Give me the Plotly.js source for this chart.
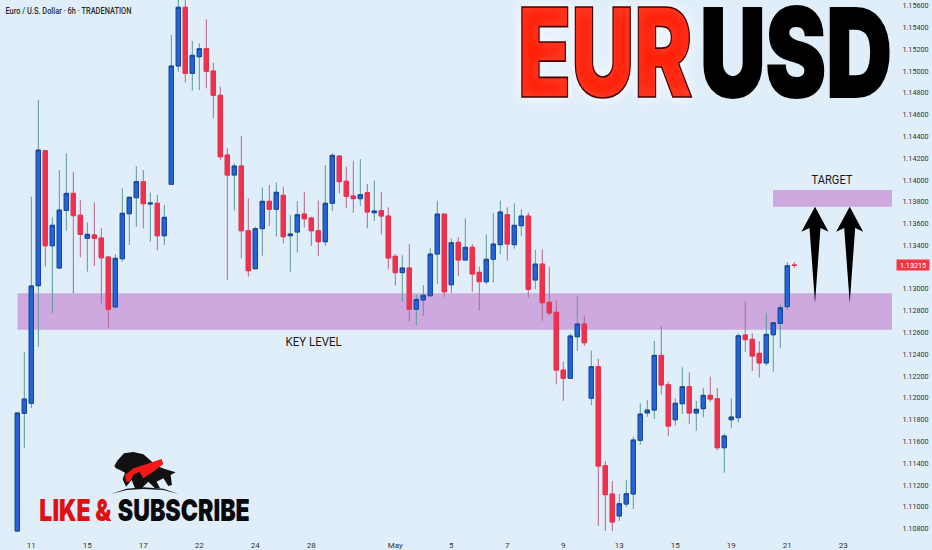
<!DOCTYPE html>
<html>
<head>
<meta charset="utf-8">
<script src="https://cdn.plot.ly/plotly-3.0.1.min.js"></script>
<style>html,body{margin:0;padding:0;background:#e0eefa}</style>
</head>
<body>
<div id="chart" style="width:932px;height:550px"></div>
<script>
var opens = [
1.10777,1.11858,1.11950,1.13029,1.14269,1.13396,1.13192,1.13721,1.13877,1.13676,
1.13464,1.13495,1.13467,1.13293,1.12834,1.13277,1.13690,1.13837,1.13984,1.13779,
1.13786,1.13488,1.13960,1.15046,1.15585,1.14979,1.15131,1.15205,1.15000,1.14777,
1.14229,1.14045,1.14128,1.13534,1.13185,1.13553,1.13804,1.13731,1.13859,1.13488,
1.13522,1.13687,1.13651,1.13534,1.13433,1.13786,1.14220,1.13988,1.13853,1.13828,
1.13883,1.13699,1.13718,1.13669,1.13299,1.13149,1.13192,1.12813,1.12898,1.12937,
1.13320,1.13687,1.13038,1.13428,1.13265,1.13382,1.13152,1.13066,1.13272,1.13406,
1.13681,1.13406,1.13580,1.13669,1.13082,1.13228,1.12877,1.12785,1.12255,1.12179,
1.12561,1.12678,1.11996,1.12286,1.11377,1.11117,1.10915,1.11025,1.11117,1.11610,
1.11861,1.11888,1.12390,1.12120,1.11799,1.11946,1.12102,1.11861,1.11900,1.12023,
1.11992,1.11542,1.11799,1.11818,1.12577,1.12537,1.12409,1.12320,1.12579,1.12684,
1.12837,1.13220];
var highs = [
1.11870,1.12421,1.13846,1.14734,1.14275,1.13657,1.14091,1.14245,1.14076,1.13816,
1.13611,1.13795,1.13556,1.13293,1.13320,1.13923,1.13844,1.14128,1.14091,1.13883,
1.13862,1.13770,1.15331,1.15698,1.15698,1.15276,1.15255,1.15475,1.15076,1.14856,
1.14291,1.14153,1.14404,1.13832,1.13571,1.13933,1.13954,1.13978,1.13938,1.13678,
1.13807,1.13892,1.13663,1.13810,1.14137,1.14245,1.14220,1.14122,1.14177,1.14192,
1.13963,1.13993,1.13892,1.13749,1.13320,1.13308,1.13412,1.12944,1.13036,1.13373,
1.13810,1.13687,1.13464,1.13474,1.13648,1.13412,1.13204,1.13501,1.13699,1.13810,
1.13749,1.13786,1.13731,1.13699,1.13357,1.13363,1.13204,1.12898,1.12332,1.12592,
1.12935,1.12754,1.12433,1.12359,1.11420,1.11236,1.11117,1.11246,1.11643,1.11950,
1.11980,1.12522,1.12659,1.12148,1.11996,1.12280,1.12234,1.11971,1.12090,1.12194,
1.12090,1.11674,1.11996,1.12592,1.12882,1.12592,1.12519,1.12781,1.12696,1.12858,
1.13247,1.13247];
var lows = [
1.10768,1.11542,1.11907,1.12469,1.13204,1.12776,1.13185,1.13534,1.12959,1.13290,
1.13158,1.13210,1.12868,1.12644,1.12825,1.13250,1.13403,1.13571,1.13556,1.13433,
1.13357,1.13403,1.13960,1.14994,1.14893,1.14819,1.14826,1.14841,1.14566,1.14183,
1.13082,1.13718,1.13281,1.13112,1.13185,1.13305,1.13577,1.13479,1.13418,1.13158,
1.13332,1.13565,1.13394,1.13302,1.13394,1.13715,1.13877,1.13740,1.13699,1.13761,
1.13556,1.13623,1.13501,1.13180,1.13029,1.12877,1.12705,1.12662,1.12751,1.12937,
1.13045,1.12928,1.12959,1.13118,1.13265,1.12974,1.12800,1.13042,1.13057,1.13320,
1.13259,1.13369,1.13486,1.12923,1.12996,1.12708,1.12754,1.12124,1.11971,1.12179,
1.12430,1.12476,1.11934,1.10823,1.10777,1.10777,1.10869,1.10995,1.10979,1.11570,
1.11827,1.11806,1.12032,1.11650,1.11744,1.11851,1.11760,1.11698,1.11821,1.11964,
1.11518,1.11313,1.11726,1.11772,1.12423,1.12246,1.12185,1.12295,1.12240,1.12455,
1.12806,1.13192];
var closes = [
1.11861,1.11989,1.13027,1.14275,1.13396,1.13584,1.13724,1.13877,1.13672,1.13501,
1.13501,1.13464,1.13286,1.12813,1.13281,1.13694,1.13841,1.13984,1.13782,1.13788,
1.13488,1.13657,1.15046,1.15585,1.14979,1.15144,1.15205,1.14997,1.14777,1.14213,
1.14045,1.14128,1.13534,1.13167,1.13553,1.13804,1.13731,1.13887,1.13479,1.13504,
1.13681,1.13644,1.13534,1.13433,1.13786,1.14226,1.13984,1.13850,1.13828,1.13865,
1.13706,1.13715,1.13669,1.13284,1.13149,1.13192,1.12813,1.12904,1.12941,1.13320,
1.13687,1.12974,1.13424,1.13265,1.13382,1.13137,1.13066,1.13272,1.13412,1.13706,
1.13412,1.13584,1.13669,1.12996,1.13228,1.12873,1.12779,1.12255,1.12179,1.12568,
1.12678,1.12506,1.12286,1.11374,1.11111,1.10860,1.11028,1.11120,1.11613,1.11851,
1.11888,1.12390,1.12118,1.11741,1.11950,1.12102,1.11861,1.11895,1.12023,1.11989,
1.11542,1.11650,1.11824,1.12570,1.12534,1.12384,1.12320,1.12583,1.12690,1.12827,
1.13213,1.13215];

var dayPos = [2,10,18,26,34,42,54,62,70,78,86,94,102,110,118];
var dayLabels = ['11','15','17','22','24','28','May','5','7','9','13','15','19','21','23'];
var priceTicks = [1.108,1.110,1.112,1.114,1.116,1.118,1.120,1.122,1.124,1.126,1.128,1.130,1.134,1.136,1.138,1.140,1.142,1.144,1.146,1.148,1.150,1.152,1.154,1.156];
var lastPrice = 1.13215;
var keyLevel = [1.12625,1.12960];
var targetLevel = [1.13754,1.13908];

var idx = opens.map(function(v,i){return i});
var bodyHigh = opens.map(function(v,i){return Math.max(v,closes[i])});
var bodyLow = opens.map(function(v,i){return Math.min(v,closes[i])});

// wicks have their own colour, so bodies go in a second trace on top
var wicks = {
    type:'candlestick', x:idx, open:opens, high:highs, low:lows, close:closes,
    whiskerwidth:0, hoverinfo:'skip',
    increasing:{line:{color:'#5b9a96',width:1},fillcolor:'#5b9a96'},
    decreasing:{line:{color:'#b8668a',width:1},fillcolor:'#b8668a'}
};
var bodies = {
    type:'candlestick', x:idx, open:opens, high:bodyHigh, low:bodyLow, close:closes,
    whiskerwidth:0, hoverinfo:'skip',
    increasing:{line:{color:'#17459c',width:1},fillcolor:'#2563dc'},
    decreasing:{line:{color:'#f0304c',width:1},fillcolor:'#f0304c'}
};

var W = 892, H = 535;
function px(x,y){return (x/W).toFixed(4)+','+(1-y/H).toFixed(4)}
function poly(pts){return 'M'+pts.map(function(p){return px(p[0],p[1])}).join(' L')+' Z'}
function arrow(c){return poly([[c,206.7],[c+13.5,231.7],[c+5.5,228],[c,303],[c-5.5,228],[c-13.5,231.7]])}
function z(p){return [p[0]/3,340+p[1]/3]}
var bull = [[343,378],[352,362],[372,340],[400,336],[430,343],[450,360],[470,378],[497,388],[527,397],[512,405],[516,435],[505,438],[490,415],[470,425],[480,445],[465,445],[445,425],[425,445],[405,445],[395,420],[378,440],[368,418],[375,398],[360,390],[348,385]].map(z);
var swoosh = [[375,405],[400,385],[440,372],[485,357],[490,372],[460,395],[430,415],[418,395],[400,405],[390,425],[378,425]].map(z);
var arc = [[332,462],[380,446],[430,442],[490,446],[535,462],[490,450],[430,447],[380,450]].map(z);

function paperShape(path,color){
    return {type:'path',xref:'paper',yref:'paper',path:path,fillcolor:color,line:{width:0},layer:'above'};
}
var band = '#cea9e0';
var shapes = [
    {type:'rect',xref:'paper',yref:'y',x0:17.5/W,x1:1,y0:keyLevel[0],y1:keyLevel[1],fillcolor:band,line:{width:0},layer:'below'},
    {type:'rect',xref:'paper',yref:'y',x0:773/W,x1:1,y0:targetLevel[0],y1:targetLevel[1],fillcolor:band,line:{width:0},layer:'below'},
    paperShape(arrow(815),'#000'),
    paperShape(arrow(849.7),'#000'),
    paperShape(poly(bull),'#111'),
    paperShape(poly(swoosh),'#f01818'),
    paperShape(poly(arc),'#111')
];

function note(text,x,y,size,color,weight,family,shadow){
    return {xref:'paper',yref:'paper',x:x/W,y:1-y/H,text:text,showarrow:false,xanchor:'center',yanchor:'middle',
        font:{family:family||'Roboto',size:size,color:color,weight:weight||400,shadow:shadow||'none'}};
}
var glow = '0 0 12px #ffffff';
var annotations = [
    note('EUR',604.5,52,90,'#ff1a00',900,'Inter',glow),
    note('USD',796,52,90,'#000000',900,'Inter'),
    note('LIKE &',75,510,22,'#e01010',900,'Inter'),
    note('SUBSCRIBE',184,510,22,'#0a0a0a',900,'Inter'),
    note('KEY LEVEL',313,341,12.5,'#1a1a1a',400,'Roboto'),
    note('TARGET',832.5,179,12.5,'#1a1a1a',400,'Roboto'),
    note('Euro / U.S. Dollar · 6h · TRADENATION',68,11,9,'#2a2a2a',500,'Roboto'),
    {xref:'paper',yref:'y',x:913/W,y:lastPrice,text:lastPrice.toFixed(5),showarrow:false,xanchor:'center',yanchor:'middle',
        bgcolor:'#f23645',width:32,height:10,borderpad:0,font:{family:'Roboto',size:7.2,color:'#ffffff'}}
];
var fits = {'KEY LEVEL':56,'TARGET':41,'Euro / U.S. Dollar · 6h · TRADENATION':126};
// the logo letters are taller and narrower than the font
var stretched = {'EUR':175,'USD':192,'LIKE &':72,'SUBSCRIBE':132};

var layout = {
    width:932, height:550,
    margin:{l:0,r:40,t:0,b:15,pad:0},
    paper_bgcolor:'#e0eefa', plot_bgcolor:'#e0eefa',
    showlegend:false, boxgap:0.12, hovermode:false,
    xaxis:{type:'linear',range:[-2.476,124.96],rangeslider:{visible:false},showgrid:false,zeroline:false,showline:false,
        tickmode:'array',tickvals:dayPos,ticktext:dayLabels,ticks:'outside',ticklen:2,tickcolor:'rgba(0,0,0,0)',
        tickfont:{family:'Roboto',size:8,color:'#333'}},
    yaxis:{side:'right',range:[1.10741,1.15652],showgrid:false,zeroline:false,showline:false,
        tickmode:'array',tickvals:priceTicks,tickformat:'.5f',ticks:'outside',ticklen:8,tickcolor:'rgba(0,0,0,0)',
        tickfont:{family:'Roboto',size:7.2,color:'#333'}},
    shapes:shapes, annotations:annotations
};

Plotly.newPlot('chart',[wicks,bodies],layout,{displayModeBar:false,staticPlot:true}).then(function(){
    document.querySelectorAll('.annotation-text').forEach(function(t){
        var s = t.textContent;
        if(stretched[s]){
            t.style.transformBox = 'fill-box';
            t.style.transformOrigin = 'center';
            t.style.transform = 'scale('+(stretched[s]/t.getComputedTextLength())+',1.367)';
        } else if(fits[s]){
            t.setAttribute('textLength',fits[s]);
            t.setAttribute('lengthAdjust','spacingAndGlyphs');
        }
        if(s=='EUR'){ t.style.stroke='#400000'; t.style.strokeWidth='1.2px'; }
        if(s=='USD'){ t.style.stroke='#000'; t.style.strokeWidth='1.5px'; }
    });
});
</script>
</body>
</html>
